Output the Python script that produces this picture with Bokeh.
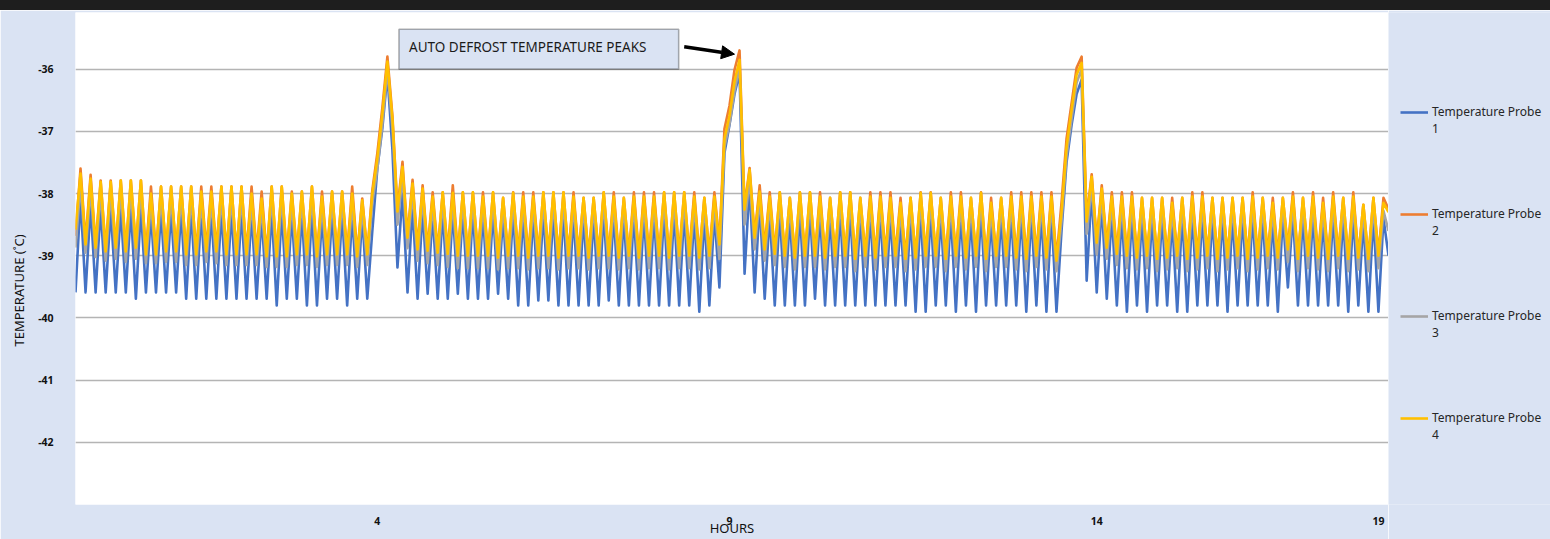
from bokeh.plotting import figure
from bokeh.models import (Range1d, FixedTicker, Legend, LegendItem, Label,
                          BoxAnnotation, Arrow, NormalHead, Div, Title)
from bokeh.layouts import column, row
from bokeh.embed import file_html
from bokeh.resources import INLINE

# ---------------- data ----------------
series_names = ["Temperature Probe\n1", "Temperature Probe\n2",
                "Temperature Probe\n3", "Temperature Probe\n4"]
hour_tick_index = [60, 130, 203, 259]
hour_labels = ["4", "9", "14", "19"]
temp_ticks = [-42, -41, -40, -39, -38, -37, -36]
temp_labels = ["-42", "-41", "-40", "-39", "-38", "-37", "-36"]
grid_ticks = [-43, -42, -41, -40, -39, -38, -37, -36]

# Probe 1 (blue)
p1_a_peaks = [-38.08, -38.18, -38.22, -38.25, -38.25, -38.25, -38.25, -38.32, -38.28, -38.28, -38.28, -38.28, -38.30, -38.30, -38.28, -38.28, -38.28, -38.32, -38.35, -38.28, -38.28, -38.32, -38.30, -38.28, -38.34, -38.30, -38.30, -38.32, -38.35]
p1_a_troughs = [-39.59, -39.59, -39.59, -39.59, -39.59, -39.59, -39.69, -39.59, -39.59, -39.59, -39.59, -39.69, -39.69, -39.69, -39.69, -39.69, -39.69, -39.69, -39.69, -39.69, -39.80, -39.69, -39.69, -39.80, -39.80, -39.69, -39.69, -39.80, -39.69, -39.69]
p1_d1 = [-38.60, -37.60, -36.95, -36.08, -37.30]
p1_b_peaks = [-38.00, -38.20, -38.25, -38.32, -38.28, -38.28, -38.28, -38.28, -38.32, -38.28, -38.35, -38.28, -38.32, -38.32, -38.28, -38.28, -38.28, -38.32, -38.35, -38.35, -38.28, -38.32, -38.35, -38.32, -38.32, -38.32, -38.28, -38.28, -38.28, -38.32, -38.35, -38.32]
p1_b_troughs = [-39.19, -39.59, -39.69, -39.61, -39.69, -39.69, -39.61, -39.69, -39.69, -39.69, -39.61, -39.69, -39.80, -39.80, -39.72, -39.72, -39.80, -39.80, -39.80, -39.80, -39.80, -39.72, -39.80, -39.80, -39.80, -39.80, -39.80, -39.80, -39.80, -39.80, -39.90, -39.80, -39.51]
p1_d2 = [-37.35, -36.90, -36.40, -36.06]
p1_c_peaks = [-37.85, -38.15, -38.32, -38.28, -38.35, -38.28, -38.28, -38.32, -38.35, -38.28, -38.28, -38.35, -38.32, -38.32, -38.35, -38.40, -38.35, -38.28, -38.28, -38.35, -38.32, -38.32, -38.35, -38.28, -38.40, -38.35, -38.32, -38.32, -38.32, -38.32, -38.32]
p1_c_troughs = [-39.29, -39.59, -39.69, -39.80, -39.80, -39.80, -39.80, -39.69, -39.80, -39.80, -39.80, -39.80, -39.80, -39.80, -39.80, -39.80, -39.80, -39.90, -39.90, -39.80, -39.80, -39.90, -39.80, -39.90, -39.80, -39.80, -39.80, -39.80, -39.90, -39.80, -39.90, -39.90]
p1_d3 = [-38.60, -37.50, -36.90, -36.40, -36.17]
p1_d_peaks = [-37.95, -38.15, -38.32, -38.32, -38.32, -38.35, -38.35, -38.35, -38.40, -38.35, -38.32, -38.32, -38.35, -38.35, -38.35, -38.35, -38.32, -38.35, -38.40, -38.35, -38.32, -38.35, -38.32, -38.40, -38.32, -38.35, -38.32, -38.42, -38.35, -38.40]
p1_d_troughs = [-39.40, -39.59, -39.69, -39.80, -39.90, -39.80, -39.90, -39.80, -39.80, -39.90, -39.90, -39.80, -39.80, -39.80, -39.90, -39.80, -39.80, -39.80, -39.80, -39.90, -39.51, -39.80, -39.80, -39.80, -39.80, -39.80, -39.90, -39.80, -39.90, -39.90, -39.00]

# Probe 2 (orange)
p2_a_peaks = [-37.60, -37.70, -37.79, -37.79, -37.79, -37.79, -37.79, -37.89, -37.89, -37.89, -37.89, -37.89, -37.89, -37.89, -37.89, -37.89, -37.89, -37.89, -37.97, -37.89, -37.89, -37.97, -37.97, -37.89, -37.97, -37.97, -37.97, -37.89, -38.08]
p2_a_troughs = [-38.68, -38.78, -38.84, -38.90, -38.85, -38.90, -38.85, -38.95, -38.95, -38.90, -38.90, -38.95, -38.95, -38.90, -38.90, -38.95, -38.95, -38.95, -38.95, -38.98, -38.98, -38.98, -38.95, -38.95, -38.98, -38.95, -38.95, -38.95, -38.98, -38.95]
p2_d1 = [-37.95, -37.35, -36.62, -35.80, -36.75]
p2_b_peaks = [-37.49, -37.78, -37.87, -37.98, -37.98, -37.87, -37.98, -37.98, -37.98, -37.98, -38.07, -37.98, -37.98, -37.98, -37.98, -37.98, -37.98, -37.98, -38.07, -38.07, -37.98, -37.98, -38.07, -37.98, -37.98, -37.98, -37.98, -37.98, -37.98, -37.98, -38.07, -37.98]
p2_b_troughs = [-38.25, -38.68, -38.87, -38.89, -38.92, -38.94, -38.97, -38.97, -38.97, -38.97, -39.00, -38.97, -38.97, -39.00, -38.97, -38.97, -39.00, -38.97, -38.97, -39.00, -38.97, -38.97, -39.00, -38.97, -39.00, -38.97, -38.97, -39.00, -38.97, -38.97, -39.00, -38.97, -38.79]
p2_d2 = [-36.96, -36.59, -36.01, -35.70]
p2_c_peaks = [-37.59, -37.87, -37.98, -37.98, -38.07, -37.98, -37.98, -37.98, -38.07, -37.98, -37.98, -38.07, -37.98, -37.98, -37.98, -38.07, -38.07, -37.98, -37.98, -38.07, -37.98, -37.98, -38.07, -37.98, -38.07, -38.07, -37.98, -37.98, -37.98, -37.98, -37.98]
p2_c_troughs = [-38.22, -38.68, -38.87, -38.94, -38.97, -39.00, -38.97, -38.97, -39.00, -38.97, -38.97, -39.02, -38.97, -39.00, -38.97, -38.97, -39.02, -39.00, -38.97, -38.97, -39.02, -38.97, -39.00, -38.97, -39.02, -38.97, -38.97, -39.00, -39.02, -38.97, -39.00, -39.05]
p2_d3 = [-38.15, -37.12, -36.55, -35.98, -35.80]
p2_d_peaks = [-37.69, -37.87, -37.98, -37.98, -37.98, -38.07, -38.07, -38.07, -38.07, -38.07, -37.98, -37.98, -38.07, -38.07, -38.07, -38.07, -37.98, -38.07, -38.07, -38.07, -37.98, -38.07, -37.98, -38.07, -37.98, -38.07, -37.98, -38.18, -38.07, -38.07]
p2_d_troughs = [-38.40, -38.76, -38.84, -38.94, -38.97, -39.00, -38.97, -39.02, -39.00, -38.97, -39.02, -39.00, -38.97, -39.02, -39.00, -38.97, -39.02, -39.00, -38.97, -39.00, -38.87, -39.02, -38.97, -39.00, -39.02, -38.97, -39.02, -39.00, -39.02, -38.97, -38.25]

# Probe 3 (grey)
p3_a_peaks = [-37.85, -37.92, -37.98, -37.98, -37.95, -37.95, -37.95, -38.15, -38.05, -38.05, -38.05, -38.05, -38.12, -38.12, -38.05, -38.05, -38.05, -38.15, -38.22, -38.05, -38.05, -38.15, -38.12, -38.05, -38.20, -38.12, -38.12, -38.15, -38.25]
p3_a_troughs = [-38.87, -38.95, -39.02, -39.08, -39.05, -39.10, -39.05, -39.12, -39.12, -39.10, -39.10, -39.15, -39.15, -39.10, -39.12, -39.15, -39.15, -39.15, -39.15, -39.18, -39.18, -39.18, -39.15, -39.15, -39.18, -39.15, -39.15, -39.15, -39.18, -39.15]
p3_d1 = [-38.15, -37.60, -36.88, -36.00, -36.95]
p3_b_peaks = [-37.72, -37.98, -38.06, -38.18, -38.12, -38.13, -38.12, -38.12, -38.18, -38.12, -38.20, -38.13, -38.18, -38.18, -38.12, -38.12, -38.12, -38.18, -38.20, -38.20, -38.12, -38.18, -38.20, -38.18, -38.18, -38.18, -38.12, -38.12, -38.12, -38.18, -38.20, -38.18]
p3_b_troughs = [-38.50, -38.88, -39.08, -39.12, -39.15, -39.18, -39.20, -39.20, -39.20, -39.20, -39.22, -39.20, -39.20, -39.22, -39.20, -39.20, -39.22, -39.20, -39.20, -39.22, -39.20, -39.20, -39.22, -39.20, -39.22, -39.20, -39.20, -39.22, -39.20, -39.20, -39.22, -39.20, -39.05]
p3_d2 = [-37.25, -36.88, -36.35, -35.95]
p3_c_peaks = [-37.76, -38.10, -38.18, -38.12, -38.20, -38.12, -38.12, -38.18, -38.20, -38.12, -38.12, -38.20, -38.18, -38.18, -38.20, -38.28, -38.20, -38.13, -38.13, -38.20, -38.18, -38.18, -38.20, -38.13, -38.28, -38.20, -38.18, -38.18, -38.18, -38.18, -38.18]
p3_c_troughs = [-38.50, -38.90, -39.08, -39.15, -39.18, -39.22, -39.18, -39.18, -39.22, -39.18, -39.18, -39.25, -39.18, -39.22, -39.18, -39.18, -39.25, -39.22, -39.18, -39.18, -39.25, -39.18, -39.22, -39.18, -39.25, -39.18, -39.18, -39.22, -39.25, -39.18, -39.22, -39.25]
p3_d3 = [-38.45, -37.40, -36.80, -36.22, -36.00]
p3_d_peaks = [-37.88, -38.06, -38.18, -38.18, -38.18, -38.20, -38.20, -38.20, -38.28, -38.20, -38.18, -38.18, -38.20, -38.20, -38.20, -38.20, -38.18, -38.20, -38.28, -38.20, -38.18, -38.20, -38.18, -38.28, -38.18, -38.20, -38.18, -38.30, -38.20, -38.28]
p3_d_troughs = [-38.65, -38.98, -39.05, -39.15, -39.20, -39.22, -39.20, -39.25, -39.22, -39.20, -39.25, -39.22, -39.20, -39.25, -39.22, -39.20, -39.25, -39.22, -39.20, -39.22, -39.10, -39.25, -39.20, -39.22, -39.25, -39.20, -39.25, -39.22, -39.25, -39.20, -38.60]

# Probe 4 (yellow)
p4_a_peaks = [-37.68, -37.76, -37.81, -37.81, -37.79, -37.79, -37.79, -38.00, -37.89, -37.89, -37.89, -37.89, -37.97, -37.97, -37.89, -37.89, -37.89, -38.00, -38.08, -37.89, -37.89, -38.00, -37.97, -37.89, -38.05, -37.97, -37.97, -38.00, -38.11]
p4_a_troughs = [-38.58, -38.82, -38.87, -38.93, -38.87, -38.93, -38.87, -38.98, -38.98, -38.93, -38.93, -38.98, -38.98, -38.93, -38.93, -38.98, -38.98, -38.98, -38.98, -39.01, -39.01, -39.01, -38.98, -38.98, -39.01, -38.98, -38.98, -38.98, -39.01, -38.98]
p4_d1 = [-38.00, -37.44, -36.72, -35.88, -36.80]
p4_b_peaks = [-37.57, -37.84, -37.92, -38.05, -37.98, -37.99, -37.98, -37.98, -38.05, -37.98, -38.07, -37.99, -38.05, -38.05, -37.98, -37.98, -37.98, -38.05, -38.07, -38.07, -37.98, -38.05, -38.07, -38.05, -38.05, -38.05, -37.98, -37.98, -37.98, -38.05, -38.07, -38.05]
p4_b_troughs = [-38.29, -38.71, -38.90, -38.92, -38.95, -38.97, -39.00, -39.00, -39.00, -39.00, -39.03, -39.00, -39.00, -39.03, -39.00, -39.00, -39.03, -39.00, -39.00, -39.03, -39.00, -39.00, -39.03, -39.00, -39.03, -39.00, -39.00, -39.03, -39.00, -39.00, -39.03, -39.00, -38.82]
p4_d2 = [-37.12, -36.75, -36.20, -35.85]
p4_c_peaks = [-37.62, -37.97, -38.05, -37.98, -38.07, -37.98, -37.98, -38.05, -38.07, -37.98, -37.98, -38.07, -38.05, -38.05, -38.07, -38.15, -38.07, -37.99, -37.99, -38.07, -38.05, -38.05, -38.07, -37.99, -38.15, -38.07, -38.05, -38.05, -38.05, -38.05, -38.05]
p4_c_troughs = [-38.26, -38.71, -38.90, -38.97, -39.00, -39.03, -39.00, -39.00, -39.03, -39.00, -39.00, -39.05, -39.00, -39.03, -39.00, -39.00, -39.05, -39.03, -39.00, -39.00, -39.05, -39.00, -39.03, -39.00, -39.05, -39.00, -39.00, -39.03, -39.05, -39.00, -39.03, -39.08]
p4_d3 = [-38.30, -37.25, -36.66, -36.09, -35.90]
p4_d_peaks = [-37.73, -37.92, -38.05, -38.05, -38.05, -38.07, -38.07, -38.07, -38.15, -38.07, -38.05, -38.05, -38.07, -38.07, -38.07, -38.07, -38.05, -38.07, -38.15, -38.07, -38.05, -38.07, -38.05, -38.15, -38.05, -38.07, -38.05, -38.18, -38.07, -38.15]
p4_d_troughs = [-38.45, -38.79, -38.87, -38.97, -39.00, -39.03, -39.00, -39.05, -39.03, -39.00, -39.05, -39.03, -39.00, -39.05, -39.03, -39.00, -39.05, -39.03, -39.00, -39.03, -38.90, -39.05, -39.00, -39.03, -39.05, -39.00, -39.05, -39.03, -39.05, -39.00, -38.30]


def zig(troughs, peaks):
    """Readings in time order: trough, peak, trough, ..., trough."""
    out = []
    for i, t in enumerate(troughs):
        out.append(t)
        if i < len(peaks):
            out.append(peaks[i])
    return out


def series(a_t, a_p, d1, b_t, b_p, d2, c_t, c_p, d3, d_t, d_p):
    return (zig(a_t, a_p) + d1 + zig(b_t, b_p) + d2 + zig(c_t, c_p) + d3
            + zig(d_t, d_p))


probe1 = series(p1_a_troughs, p1_a_peaks, p1_d1, p1_b_troughs, p1_b_peaks, p1_d2,
                p1_c_troughs, p1_c_peaks, p1_d3, p1_d_troughs, p1_d_peaks)
probe2 = series(p2_a_troughs, p2_a_peaks, p2_d1, p2_b_troughs, p2_b_peaks, p2_d2,
                p2_c_troughs, p2_c_peaks, p2_d3, p2_d_troughs, p2_d_peaks)
probe3 = series(p3_a_troughs, p3_a_peaks, p3_d1, p3_b_troughs, p3_b_peaks, p3_d2,
                p3_c_troughs, p3_c_peaks, p3_d3, p3_d_troughs, p3_d_peaks)
probe4 = series(p4_a_troughs, p4_a_peaks, p4_d1, p4_b_troughs, p4_b_peaks, p4_d2,
                p4_c_troughs, p4_c_peaks, p4_d3, p4_d_troughs, p4_d_peaks)
all_probes = [probe1, probe2, probe3, probe4]

colors = ["#4472C4", "#ED7D31", "#A5A5A5", "#FFC000"]
BG = "#DAE3F3"
FONT = "Noto Sans"
TXT = "#111111"

n_samples = max(len(s) for s in all_probes)
H = 529          # figure height (page is 539 tall, 10 px black bar on top)
MAIN_W = 1388
LEG_W = 162

p = figure(width=MAIN_W, height=H,
           x_range=Range1d(0, n_samples - 1), y_range=Range1d(-43, -35.09),
           output_backend="svg", toolbar_location=None,
           min_border_left=73, min_border_right=0,
           min_border_top=2, min_border_bottom=33,
           border_fill_color=BG, background_fill_color="white",
           outline_line_color=None)

renderers = []
for ys, c in zip(all_probes, colors):
    r = p.line(list(range(len(ys))), ys, line_color=c, line_width=2.6,
               line_join="round")
    renderers.append(r)

# grid
p.xgrid.visible = False
p.ygrid.ticker = FixedTicker(ticks=grid_ticks)
p.ygrid.grid_line_color = "#B4B4B4"
p.ygrid.grid_line_width = 1.3

# y axis
yax = p.yaxis[0]
yax.ticker = FixedTicker(ticks=temp_ticks)
yax.major_label_overrides = {t: s for t, s in zip(temp_ticks, temp_labels)}
yax.axis_line_color = None
yax.major_tick_line_color = None
yax.minor_tick_line_color = None
yax.major_label_standoff = 16
yax.major_label_text_font = FONT
yax.major_label_text_font_style = "bold"
yax.major_label_text_font_size = "10.5px"
yax.major_label_text_color = TXT

ytitle = Title(text="TEMPERATURE (˚C)", align="left", offset=158,
               standoff=15, text_font=FONT, text_font_style="normal",
               text_font_size="13px", text_color=TXT)
p.add_layout(ytitle, "left")

# x axis
xax = p.xaxis[0]
xax.ticker = FixedTicker(ticks=hour_tick_index)
xax.major_label_overrides = {i: s for i, s in zip(hour_tick_index, hour_labels)}
xax.axis_line_color = None
xax.major_tick_line_color = None
xax.minor_tick_line_color = None
xax.major_label_standoff = 6
xax.major_label_text_font = FONT
xax.major_label_text_font_style = "bold"
xax.major_label_text_font_size = "10.5px"
xax.major_label_text_color = TXT
xax.axis_label = "HOURS"
xax.axis_label_standoff = -9
xax.axis_label_text_font = FONT
xax.axis_label_text_font_style = "normal"
xax.axis_label_text_font_size = "13px"
xax.axis_label_text_color = TXT

# annotation box + arrow
box = BoxAnnotation(left=64.3, right=119.9, bottom=-36.0, top=-35.36,
                    fill_color=BG, fill_alpha=1.0, line_color="black",
                    line_width=1.6, level="overlay")
p.add_layout(box)
note = Label(x=66.3, y=-35.65, text="AUTO DEFROST TEMPERATURE PEAKS",
             text_align="left", text_baseline="middle", text_font=FONT,
             text_font_size="13.5px", text_color="#1a1a1a", level="overlay")
p.add_layout(note)
arrow = Arrow(end=NormalHead(size=13, fill_color="black", line_color="black"),
              x_start=121.0, y_start=-35.64, x_end=131.0, y_end=-35.76,
              line_width=3.5, line_color="black")
p.add_layout(arrow)

# legend panel (separate figure on the right, same background);
# its lines carry the same data but lie outside its (empty) view
lg = figure(width=LEG_W, height=H, x_range=Range1d(0, 1), y_range=Range1d(0, 1),
            output_backend="svg", toolbar_location=None,
            x_axis_location=None, y_axis_location=None,
            min_border=0, border_fill_color=BG, background_fill_color=BG,
            outline_line_color=None)
lg.xgrid.visible = False
lg.ygrid.visible = False
lg_renderers = [lg.line(list(range(len(ys))), ys, line_color=c, line_width=2.6)
                for ys, c in zip(all_probes, colors)]
items = [LegendItem(label="\n" + n, renderers=[r])
         for n, r in zip(series_names, lg_renderers)]
legend = Legend(items=items, location=(12, 61), orientation="vertical",
                glyph_width=28, glyph_height=20, label_height=20,
                label_standoff=4, spacing=51, padding=0, margin=0,
                border_line_color=None, background_fill_alpha=0,
                label_text_font=FONT, label_text_font_size="12px",
                label_text_color="#262626")
lg.add_layout(legend)

bar = Div(text="", width=MAIN_W + LEG_W, height=10, margin=0,
          styles={"background-color": "#1e1e1e"})

layout = column(bar, row(p, lg, spacing=0), spacing=0)
open("out.html", "w").write(file_html(layout, INLINE))
